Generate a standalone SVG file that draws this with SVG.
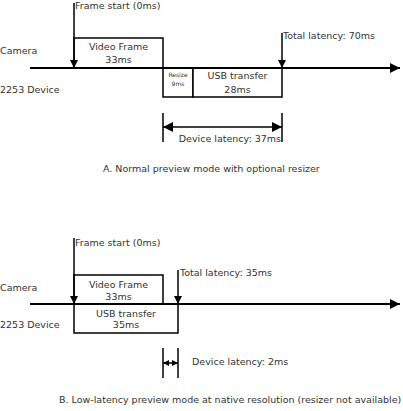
<svg xmlns="http://www.w3.org/2000/svg" width="403" height="411" viewBox="0 0 403 411">
<defs>
<style>
text{font-family:"DejaVu Sans","Liberation Sans",sans-serif;font-size:9.5px;fill:#333}
.s{font-size:6px}
.c{text-anchor:middle}
.ln{stroke:#000;stroke-width:1.5;fill:none}
.ax{stroke:#000;stroke-width:2;fill:none}
.bx{stroke:#000;stroke-width:1.5;fill:#fff}
</style>
<marker id="ah" viewBox="0 0 10 10" refX="10" refY="5" markerWidth="10" markerHeight="10" markerUnits="userSpaceOnUse" orient="auto"><path d="M0,0L10,5L0,10z" fill="#000"/></marker>
<marker id="ahs" viewBox="0 0 10 10" refX="10" refY="5" markerWidth="6" markerHeight="6" markerUnits="userSpaceOnUse" orient="auto"><path d="M0,0L10,5L0,10z" fill="#000"/></marker>
<marker id="ahd" viewBox="0 0 10 10" refX="10" refY="5" markerWidth="8" markerHeight="8" markerUnits="userSpaceOnUse" orient="auto"><path d="M0,0L10,5L0,10z" fill="#000"/></marker>
</defs>
<g id="partA">
<text x="0" y="53.5">Camera</text>
<text x="0" y="92.5">2253 Device</text>
<g id="videoA"><rect class="bx" x="74" y="38" width="89" height="30"/><text class="c" x="118.5" y="50">Video Frame</text><text class="c" x="118.5" y="62.5">33ms</text></g>
<g id="resizeA"><rect class="bx" x="163" y="68" width="30" height="29"/><text class="c s" x="178" y="77">Resize</text><text class="c s" x="178" y="85.5">9ms</text></g>
<g id="usbA"><rect class="bx" x="193" y="68" width="89" height="29"/><text class="c" x="237.5" y="79">USB transfer</text><text class="c" x="237.5" y="93">28ms</text></g>
<text x="75" y="8.5">Frame start (0ms)</text>
<text x="283" y="38.5">Total latency: 70ms</text>
<text x="281" y="141.5" text-anchor="end">Device latency: 37ms</text>
<text x="103" y="171.5">A. Normal preview mode with optional resizer</text>
</g>
<g id="partB">
<text x="0" y="290.5">Camera</text>
<text x="0" y="327.5">2253 Device</text>
<g id="videoB"><rect class="bx" x="74" y="275" width="89" height="29"/><text class="c" x="118.5" y="287.5">Video Frame</text><text class="c" x="118.5" y="299.5">33ms</text></g>
<g id="usbB"><rect class="bx" x="74" y="304" width="104" height="29"/><text class="c" x="126" y="316.5">USB transfer</text><text class="c" x="126" y="327.5">35ms</text></g>
<text x="75" y="245.5">Frame start (0ms)</text>
<text x="180" y="275.5">Total latency: 35ms</text>
<text x="192" y="364.5">Device latency: 2ms</text>
<text x="59" y="403">B. Low-latency preview mode at native resolution (resizer not available)</text>
</g>
<g id="connectors">
<line class="ax" x1="30" y1="68" x2="400" y2="68" marker-end="url(#ah)"/>
<line class="ln" x1="74" y1="3" x2="74" y2="68" marker-end="url(#ahd)"/>
<line class="ln" x1="282" y1="33" x2="282" y2="68" marker-end="url(#ahd)"/>
<line class="ln" x1="163" y1="113" x2="163" y2="142"/>
<line class="ln" x1="282" y1="113" x2="282" y2="142"/>
<line class="ln" x1="163" y1="127" x2="282" y2="127" marker-end="url(#ah)"/>
<path d="M163,127l10,-5v10z" fill="#000"/>
<line class="ax" x1="30" y1="304" x2="400" y2="304" marker-end="url(#ah)"/>
<line class="ln" x1="74" y1="238" x2="74" y2="304" marker-end="url(#ahd)"/>
<line class="ln" x1="178" y1="270" x2="178" y2="304" marker-end="url(#ahd)"/>
<line class="ln" x1="163" y1="348" x2="163" y2="378"/>
<line class="ln" x1="178" y1="348" x2="178" y2="378"/>
<line class="ln" x1="163" y1="363" x2="178" y2="363" marker-end="url(#ahs)"/>
<path d="M163,363l6,-3v6z" fill="#000"/>
</g>
</svg>
